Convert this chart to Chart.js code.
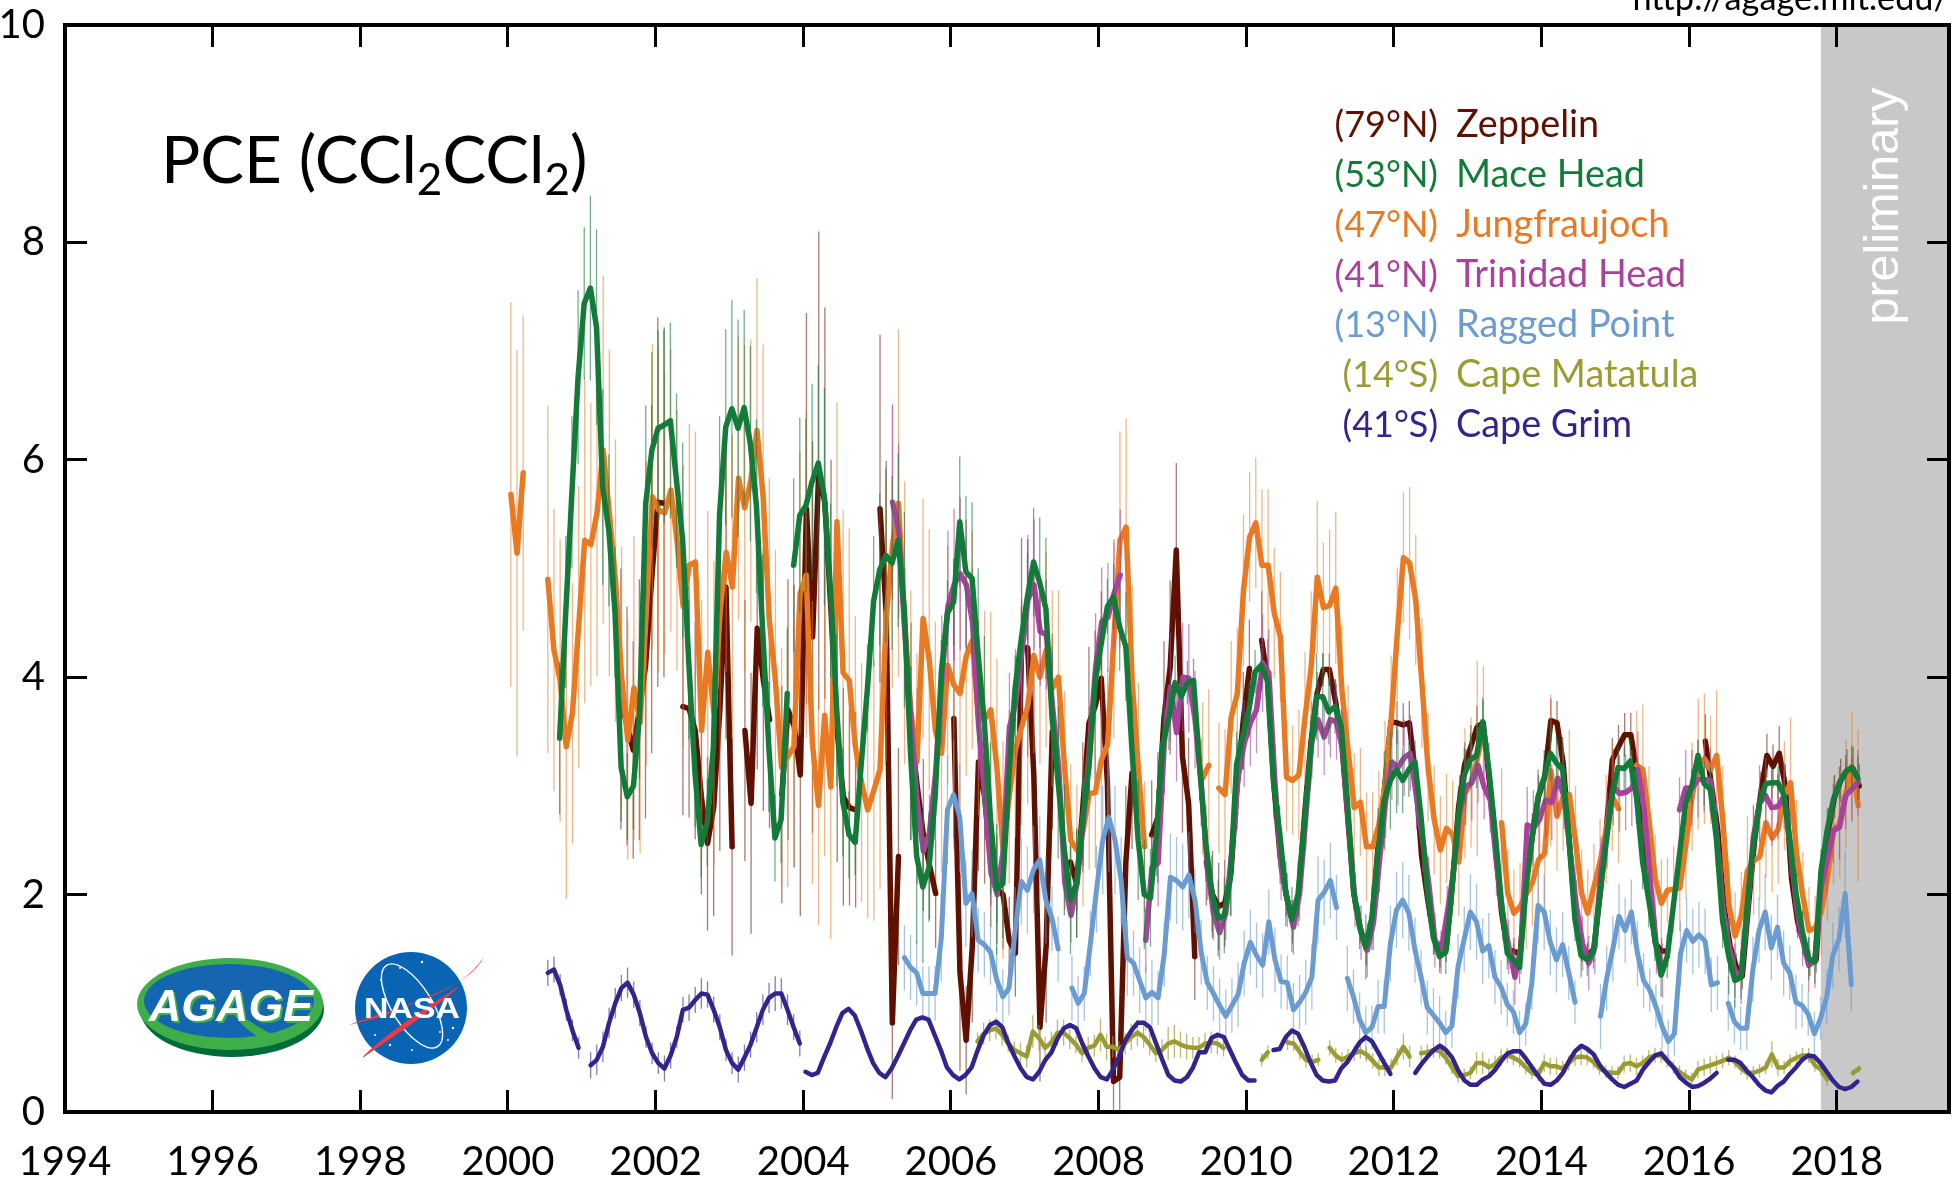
<!DOCTYPE html>
<html>
<head>
<meta charset="utf-8">
<title>PCE (CCl2CCl2)</title>
<script src="https://cdn.jsdelivr.net/npm/chart.js@4"></script>
<style>
  html, body { margin: 0; padding: 0; background: #fff; overflow: hidden; }
  #wrap { position: relative; width: 1955px; height: 1184px; overflow: hidden; }
  #chart { position: absolute; left: 0; top: 0; }
  .note { position: absolute; font-family: Lato, sans-serif; white-space: nowrap; }
  #title { left: 161px; top: 116px; font-size: 65.5px; line-height: 84px; color: #000; }
  #title sub { font-size: 44px; line-height: 0; vertical-align: -12px; }
  #url { right: 6px; top: -23px; font-size: 34.3px; line-height: 40px; color: #000; }
  #prelim { left: 1881px; top: 206px; transform: translate(-50%, -50%) rotate(-90deg);
            font-family: "Liberation Sans", sans-serif; font-size: 48.5px; color: #fff; }
  .lat { text-align: right; width: 130px; left: 1308px; font-size: 36px; }
  .site { left: 1456px; font-size: 37.8px; }
  .lat, .site { line-height: 44px; }
  #logos { position: absolute; left: 0; top: 0; }
</style>
</head>
<body>
<div id="wrap">
  <canvas id="chart" width="1955" height="1184"></canvas>
  <svg id="logos" width="1955" height="1184" viewBox="0 0 1955 1184">
    <!-- AGAGE -->
    <ellipse cx="232" cy="1009" rx="92" ry="48" fill="#006b3a"/>
    <ellipse cx="230" cy="1004" rx="93" ry="46" fill="#3fae49"/>
    <ellipse cx="229" cy="1001" rx="85" ry="37" fill="#1565b0"/>
    <path d="M 300 1031 C 280 1040 270 1034 254 1024 C 244 1018 238 1012 232 1012 C 240 1024 252 1035 268 1042 Z" fill="#3fae49"/>
    <text x="149" y="1021" font-family="Liberation Sans" font-weight="bold" font-style="italic" font-size="44" textLength="164" lengthAdjust="spacingAndGlyphs" fill="#3fae49" dx="2" dy="2">AGAGE</text>
    <text x="149" y="1021" font-family="Liberation Sans" font-weight="bold" font-style="italic" font-size="44" textLength="164" lengthAdjust="spacingAndGlyphs" fill="#fff">AGAGE</text>
    <!-- NASA -->
    <circle cx="411" cy="1008" r="56" fill="#0a64b4"/>
    <g fill="#fff">
      <circle cx="400" cy="968" r="1"/><circle cx="422" cy="962" r="1.2"/><circle cx="381" cy="980" r="1"/>
      <circle cx="375" cy="1035" r="1"/><circle cx="390" cy="1045" r="1.2"/><circle cx="440" cy="1032" r="1"/>
      <circle cx="453" cy="1028" r="1.2"/><circle cx="448" cy="1040" r="1"/><circle cx="412" cy="1050" r="1"/>
    </g>
    <ellipse cx="412" cy="1006" rx="20" ry="48" transform="rotate(-32 412 1006)" fill="none" stroke="#fff" stroke-width="1.4"/>
    <path d="M 349 1025 C 390 1008 455 1000 484 957 C 468 988 420 996 385 1016 Z" fill="#ee3a43"/>
    <path d="M 363 1057 C 385 1035 420 1012 457 988 C 430 1012 395 1035 363 1057 Z" fill="#ee3a43" stroke="#ee3a43"/>
    <text x="364" y="1018" font-family="Liberation Sans" font-weight="bold" font-size="30" textLength="96" lengthAdjust="spacingAndGlyphs" fill="#fff">NASA</text>
  </svg>
  <div class="note" id="title">PCE (CCl<sub>2</sub>CCl<sub>2</sub>)</div>
  <div class="note" id="url">http://agage.mit.edu/</div>
  <div class="note" id="prelim">preliminary</div>
</div>
<script>
// tick labels
const yearTicks = [1994, 1996, 1998, 2000, 2002, 2004, 2006, 2008, 2010, 2012, 2014, 2016, 2018];
const valueTicks = [0, 2, 4, 6, 8, 10];
const xMin = 1994, xMax = 2019.52, yMin = 0, yMax = 10;
const prelimStart = 2017.785;

// monthly means (ppt) per unbroken run, with the year each run starts
const zeppelinStarts = [2001.53, 2002.37, 2003.21, 2003.71, 2005.04, 2005.46, 2006.04, 2007.62, 2008.72, 2009.46, 2010.21, 2016.22];
const zeppelin = [
  [3.8,3.55,3.33,3.7,4.1,4.9,5.61,5.6],
  [3.73,3.71,3.51,2.9,2.47,2.8,3.7,4.83,2.44],
  [3.51,2.84,4.45,3.97,3.61],
  [2.92,3.7,3.55,3.1,5.55,4.37,5.9,5.6,4.6,3.5,2.9,2.8,2.78],
  [5.55,4.59,.82,2.35],
  [3.5,3.0,2.55,2.27,2.01],
  [3.62,1.28,.66,1.52,3.22,2.9,2.3,2.05,2.0,1.58,1.46,4.28,4.27,3.1,.78,1.52,3.5],
  [2.3,2.1,2.8,3.58,3.73,3.99,3.03,.28,.32,2.3,3.12],
  [2.55,2.71,3.63,4.09,5.17,3.27,2.84,1.43],
  [2.3,2.0,1.89,1.92,2.2,3.0,3.6,4.08],
  [4.34,3.95,3.0,2.35,2.0,1.75,2.0,2.75,3.4,3.85,4.07,4.07,3.78,3.4,2.7,2.0,1.7,1.5,1.8,2.5,3.0,3.59,3.58,3.56,3.58,3.1,2.35,1.95,1.6,1.45,1.5,2.1,2.8,3.2,3.36,3.54,3.58,3.05,2.44,1.83,1.49,1.48,1.45,2.13,2.55,2.9,3.08,3.6,3.58,3.21,2.5,1.8,1.5,1.44,1.5,2.0,2.59,3.24,3.36,3.47,3.47,3.12,2.5,2.0,1.55,1.48,1.48],
  [3.41,3.0,2.6,1.9,1.53,1.34,1.25,1.9,2.5,2.93,3.28,3.18,3.3,3.0,2.15,1.75,1.55,1.37,1.4,2.25,2.6,2.9,3.05,3.14,3.16,3.0]
];
const zeppelinErr = [
  [1.2,1.1,1.0,1.2,1.4,1.6,1.7,1.6],
  [1.0,1.0,1.0,.9,.8,1.0,1.3,1.4,1.0],
  [1.2,1.2,1.3,1.2,1.0],
  [1.0,1.2,1.3,1.3,1.8,1.8,2.2,1.8,1.4,1.2,1.0,.9,.9],
  [1.6,1.4,.7,1.0],
  [1.0,.9,.7,.5,.5],
  [1.1,.9,.5,.7,1.0,.8,.6,.5,.5,.4,.4,1.0,1.0,1.0,.5,.7,.9],
  [.5,.5,.6,.7,.7,.8,.7,.3,.3,.7,.7],
  [.5,.6,.7,.8,.8,.7,.6,.4],
  [.4,.4,.4,.4,.4,.4,.45,.45],
  [.45,.4,.3,.25,.2,.2,.2,.25,.25,.2,.15,.15,.2,.2,.2,.15,.15,.15,.15,.2,.2,.2,.2,.2,.2,.2,.15,.15,.15,.12,.12,.15,.2,.2,.2,.2,.2,.15,.15,.15,.12,.12,.12,.15,.2,.2,.2,.2,.2,.15,.15,.12,.12,.12,.12,.15,.2,.2,.2,.2,.2,.15,.15,.12,.12,.12,.15],
  [.25,.2,.15,.15,.12,.12,.12,.15,.2,.2,.2,.2,.25,.2,.15,.15,.12,.12,.12,.15,.2,.2,.2,.2,.2,.2]
];

const maceHeadStarts = [2000.70, 2003.87];
const maceHead = [
  [3.44,4.6,5.7,6.76,7.44,7.58,7.22,5.75,5.35,4.6,3.17,2.9,3.0,3.67,5.6,6.09,6.29,6.32,6.36,5.81,5.26,4.13,3.12,2.46,2.66,3.36,5.5,6.3,6.47,6.29,6.48,6.15,5.57,4.43,3.36,2.52,2.69,3.85],
  [5.03,5.49,5.58,5.8,5.97,5.66,4.8,3.7,2.85,2.55,2.48,3.21,3.9,4.7,4.99,5.12,5.05,5.26,4.62,3.3,2.35,2.07,2.25,2.9,4.04,4.59,4.69,5.43,4.97,4.91,4.2,3.58,2.7,2.05,2.1,3.1,3.9,4.35,4.74,5.06,4.87,4.63,3.63,3.03,2.41,1.95,2.11,2.71,3.17,3.95,4.31,4.65,4.74,4.46,4.28,3.33,2.5,2.0,1.97,2.57,3.39,3.63,3.95,3.82,3.95,3.97,3.17,2.47,2.01,1.78,1.81,2.16,3.2,3.45,3.7,4.05,4.11,3.97,3.03,2.57,2.01,1.77,2.01,2.65,3.3,3.82,3.82,3.68,3.73,3.55,2.87,2.04,1.7,1.52,1.79,2.4,2.87,3.05,3.15,3.05,3.15,3.22,2.7,2.05,1.6,1.43,1.47,2.05,2.7,3.1,3.24,3.28,3.59,3.15,2.59,1.95,1.46,1.4,1.33,2.04,2.5,2.9,3.08,3.3,3.21,3.15,2.53,1.77,1.44,1.4,1.47,1.98,2.44,2.9,3.17,3.16,3.23,2.9,2.3,1.95,1.59,1.26,1.43,1.9,2.37,2.84,3.0,3.28,3.02,2.97,2.51,1.76,1.43,1.21,1.24,1.9,2.46,2.84,3.02,3.03,3.03,2.91,2.46,1.99,1.65,1.41,1.38,2.22,2.59,2.87,3.03,3.13,3.17,3.07]
];
const maceHeadErr = [
  [.7,.7,.7,.8,.7,.85,.9,.9,.7,.6,.5,.4,.4,.6,.9,.9,.9,.9,.9,.8,.9,.7,.5,.3,.4,.6,.9,.9,1.0,1.0,.9,.9,.8,.7,.6,.4,.4,.6],
  [.8,.9,.8,.9,.9,1.0,.8,.7,.5,.4,.3,.3,.4,.6,.7,.8,.8,.8,.9,.8,.8,.7,.5,.4,.3,.3,.4,.6,.7,.7,.8,.8,.7,.6,.5,.4,.3,.3,.4,.5,.6,.65,.65,.7,.6,.5,.5,.4,.3,.25,.25,.25,.3,.4,.5,.5,.55,.5,.45,.4,.35,.3,.25,.2,.2,.2,.3,.35,.35,.35,.35,.35,.3,.3,.25,.2,.2,.2,.2,.25,.3,.3,.3,.3,.3,.4,.4,.3,.25,.15,.15,.15,.2,.3,.3,.4,.45,.45,.4,.3,.25,.2,.15,.15,.15,.15,.2,.25,.25,.25,.25,.3,.22,.25,.2,.2,.15,.15,.15,.15,.2,.25,.25,.25,.25,.3,.25,.2,.2,.15,.15,.15,.15,.15,.2,.2,.2,.25,.25,.25,.2,.2,.2,.15,.15,.15,.15,.15,.2,.2,.25,.25,.35,.25,.2,.2,.15,.15,.15,.15,.15,.15,.2,.2,.2,.2,.2,.2,.2,.15,.15,.15,.2,.2,.25,.25,.25,.25,.25,.3]
];

const jungfraujochStarts = [2000.04, 2000.54, 2009.41, 2009.63, 2013.46, 2015.29];
const jungfraujoch = [
  [5.68,5.14,5.88],
  [4.9,4.25,3.97,3.36,3.67,4.46,5.26,5.22,5.51,6.09,5.51,4.89,4.0,3.42,3.9,3.58,4.59,5.66,5.54,5.51,5.72,5.26,4.65,5.03,5.06,3.51,4.23,3.67,4.6,5.15,4.83,5.83,5.56,5.81,6.27,5.66,4.53,3.97,3.17,3.27,3.36,4.77,4.94,3.4,2.82,3.65,2.99,5.43,4.04,3.97,3.36,3.03,2.78,2.96,3.15,4.53,5.2,5.6,4.5,3.7,3.22,4.54,4.16,3.51,3.3,4.11,3.93,3.85,4.19,4.34,3.63,3.61,3.7,3.17,2.41,2.9,3.33,3.54,3.73,4.2,4.0,4.25,3.9,4.0,3.17,2.5,2.41,2.59,2.93,2.94,3.24,3.38,4.34,5.26,5.38,3.95,3.15,2.44],
  [3.07,3.19],
  [2.98,2.92,3.63,3.85,4.8,5.29,5.42,5.03,5.03,4.59,4.37,3.08,3.05,3.1,3.63,4.09,4.92,4.64,4.66,4.82,3.88,3.33,2.8,2.85,2.44,2.44,2.64,3.0,3.6,4.4,5.1,5.05,4.71,3.95,3.17,2.69,2.41,2.61,2.55,2.3,2.93,3.03,3.25,3.5],
  [2.66,2.01,1.83,1.89,2.0,2.11,2.32,2.38,3.14,2.72,2.9,2.92,2.5,2.01,1.83,2.07,2.3,2.6,2.9,2.79],
  [3.19,3.15,2.68,2.15,1.92,2.04,2.05,2.06,2.46,2.9,3.2,3.25,3.15,3.28,2.68,1.9,1.62,1.81,2.22,2.31,2.35,2.66,2.52,2.6,2.91,3.03,2.37,1.99,1.67,1.69,1.84,2.15,2.59,2.66,2.93,3.18,2.82]
];
const jungfraujochErr = [
  [1.77,1.87,1.45],
  [1.6,1.3,1.3,1.4,1.2,1.3,1.5,1.3,1.5,1.6,1.5,1.3,1.2,1.1,1.4,1.2,1.4,1.4,1.5,1.3,1.3,1.2,1.3,1.3,1.2,1.2,1.3,1.4,1.3,1.1,1.4,1.3,1.5,1.3,1.4,1.4,1.3,1.2,1.1,1.2,1.1,1.3,1.5,1.3,1.1,1.3,1.4,1.1,1.5,1.4,1.2,1.1,1.0,1.2,1.1,1.3,1.3,1.6,1.3,1.1,1.0,1.1,1.2,1.0,1.1,1.1,1.0,1.1,1.1,1.0,.9,1.0,.9,1.0,1.0,.8,.8,.9,.9,.9,.8,.9,.9,.8,.7,.7,.6,.7,.7,.7,.8,.7,.9,1.0,1.0,.9,.8,.6],
  [.7,.7],
  [.6,.6,.7,.6,.7,.6,.6,.7,.7,.6,.6,.5,.5,.6,.6,.7,.7,.6,.7,.7,.6,.6,.5,.5,.5,.5,.5,.6,.6,.6,.6,.7,.6,.6,.5,.5,.5,.5,.5,.5,.6,.6,.9,.6],
  [.5,.4,.4,.4,.5,.4,.5,.6,.7,.5,.5,.6,.5,.4,.4,.4,.4,.5,.5,.5],
  [.5,.6,.5,.4,.4,.3,.4,.4,.5,.5,.6,.6,.5,.6,.5,.4,.4,.4,.5,.5,.4,.5,.5,.5,.5,.6,.5,.4,.4,.3,.4,.4,.5,.5,.5,.5,.7]
];

const trinidadStarts = [2005.21, 2008.64, 2015.87];
const trinidad = [
  [5.61,5.35,4.4,3.6,2.85,2.4,2.57,3.12,3.97,4.65,4.85,4.95,4.85,4.5,3.55,2.9,2.2,2.0,2.41,3.54,3.76,4.22,4.71,4.85,4.42,4.39,3.73,3.17,2.11,1.81,2.11,2.66,3.33,4.09,4.51,4.55,4.77,4.94],
  [1.58,2.25,2.29,3.39,3.91,3.49,4.0,3.99,3.61,3.03,2.25,1.83,1.65,1.83,2.41,3.08,3.39,3.58,3.7,4.13,4.04,3.03,2.25,1.95,1.7,2.01,2.71,3.42,3.61,3.45,3.61,3.59,3.33,2.62,1.95,1.65,1.49,1.74,2.32,2.87,3.22,3.17,3.26,3.3,2.9,2.5,2.1,1.58,1.47,1.83,2.2,2.75,2.99,3.03,3.19,2.99,2.87,2.29,1.83,1.52,1.24,1.52,2.64,2.61,2.69,2.87,2.85,3.07,2.9,2.38,1.89,1.55,1.37,1.52,2.23,2.59,2.99,2.93,2.94,2.98,3.15,2.78,2.13,1.52,1.3],
  [2.78,2.98,2.98,3.06,3.06,3.05,2.56,1.9,1.53,1.3,1.24,1.84,2.53,2.84,2.91,2.8,2.81,2.91,2.46,1.9,1.59,1.35,1.39,2.06,2.31,2.59,2.62,2.91,2.97,3.03]
];
const trinidadErr = [
  [.9,.8,.6,.5,.4,.35,.35,.4,.6,.7,.7,.7,.6,.5,.5,.4,.3,.25,.3,.5,.5,.5,.6,.6,.5,.5,.5,.4,.25,.25,.25,.4,.4,.5,.5,.5,.5,.6],
  [.3,.3,.4,.45,.5,.45,.5,.5,.45,.4,.3,.25,.25,.25,.3,.35,.4,.4,.4,.45,.4,.35,.3,.25,.25,.25,.3,.35,.35,.35,.35,.35,.35,.3,.25,.25,.25,.25,.3,.35,.35,.35,.35,.35,.3,.3,.25,.25,.2,.25,.3,.35,.35,.35,.35,.3,.3,.3,.25,.25,.25,.25,.35,.35,.35,.35,.35,.35,.3,.3,.25,.25,.25,.25,.3,.35,.35,.35,.35,.35,.35,.3,.25,.25,.25],
  [.3,.35,.35,.35,.3,.3,.3,.25,.25,.25,.25,.25,.3,.35,.35,.35,.3,.3,.3,.25,.25,.25,.25,.25,.3,.3,.3,.3,.3,.3]
];

const raggedPointStarts = [2005.37, 2007.64, 2011.37, 2014.80, 2016.53];
const raggedPoint = [
  [1.42,1.33,1.28,1.09,1.09,1.09,1.6,2.78,2.92,2.71,1.92,2.01,1.58,1.54,1.47,1.22,1.06,1.14,1.67,2.12,2.04,2.23,2.32,1.95,1.78,1.5],
  [1.14,1.0,1.09,1.55,2.05,2.5,2.71,2.5,2.13,1.42,1.37,1.21,1.05,1.1,1.05,1.45,2.16,2.13,2.07,2.18,1.95,1.47,1.19,1.09,.98,.88,.98,1.08,1.37,1.56,1.44,1.35,1.75,1.4,1.2,1.19,.94,1.01,1.1,1.24,1.95,2.02,2.13,1.88],
  [1.23,1.06,.85,.73,.78,.97,.97,1.55,1.86,1.95,1.83,1.49,1.24,.96,.89,.82,.73,.79,1.34,1.59,1.84,1.75,1.48,1.53,1.24,1.15,.99,.92,.73,.81,1.19,1.9,1.84,1.56,1.4,1.54,1.28,1.01],
  [.88,1.23,1.5,1.8,1.67,1.84,1.46,1.21,1.12,.97,.79,.65,.72,1.46,1.67,1.57,1.63,1.57,1.17,1.19],
  [1.0,.83,.77,.77,1.31,1.67,1.84,1.51,1.7,1.37,1.28,1.01,.98,.9,.72,.86,1.06,1.44,1.59,2.01,1.17]
];
const raggedPointErr = [
  [.3,.3,.3,.25,.25,.25,.4,.5,.5,.5,.4,.4,.3,.3,.3,.3,.25,.25,.4,.4,.4,.4,.4,.4,.3,.3],
  [.3,.25,.25,.3,.4,.5,.5,.5,.4,.35,.3,.3,.3,.3,.25,.3,.4,.4,.4,.4,.3,.3,.25,.25,.25,.25,.25,.3,.3,.3,.3,.3,.3,.3,.25,.25,.25,.25,.3,.3,.4,.3,.35,.3],
  [.3,.25,.25,.25,.2,.25,.25,.35,.35,.35,.35,.3,.25,.25,.25,.25,.2,.2,.3,.3,.35,.35,.3,.3,.25,.25,.2,.2,.2,.2,.25,.35,.35,.3,.3,.3,.25,.2],
  [.3,.3,.3,.3,.3,.3,.3,.25,.2,.2,.2,.2,.2,.3,.3,.3,.3,.3,.25,.25],
  [.25,.2,.2,.2,.3,.3,.35,.3,.3,.3,.25,.25,.2,.2,.2,.2,.25,.3,.3,.4,.25]
];

const capeMatatulaStarts = [2006.36, 2010.21, 2010.56, 2011.13, 2012.37, 2018.22];
const capeMatatula = [
  [.65,.72,.75,.77,.71,.63,.57,.54,.51,.74,.68,.59,.64,.73,.73,.68,.62,.54,.59,.61,.71,.6,.6,.57,.63,.69,.73,.69,.62,.54,.57,.63,.65,.62,.6,.59,.59,.63,.64,.63,.59],
  [.48,.55],
  [.64,.63,.55,.48,.46,.48],
  [.59,.52,.48,.51,.54,.56,.53,.47,.41,.41,.41,.51,.6,.51],
  [.54,.55,.57,.56,.5,.41,.33,.34,.36,.45,.45,.41,.44,.5,.52,.5,.47,.41,.36,.34,.45,.42,.42,.4,.45,.5,.51,.5,.46,.4,.37,.36,.36,.44,.45,.42,.45,.5,.52,.52,.47,.41,.37,.33,.3,.39,.41,.43,.45,.47,.5,.46,.4,.36,.36,.38,.41,.53,.41,.41,.47,.5,.52,.52,.43,.39,.3],
  [.36,.4]
];
const capeMatatulaErr = [
  [.08,.1,.1,.1,.1,.08,.08,.1,.1,.15,.12,.1,.1,.12,.12,.1,.08,.08,.1,.1,.15,.12,.1,.08,.1,.12,.12,.1,.1,.08,.1,.15,.15,.12,.12,.1,.1,.1,.1,.1,.08],
  [.06,.06],
  [.07,.07,.07,.07,.07,.06],
  [.07,.07,.07,.07,.07,.07,.07,.07,.08,.08,.08,.08,.12,.1],
  [.07,.07,.07,.07,.06,.06,.06,.06,.06,.1,.1,.08,.08,.08,.07,.07,.06,.06,.06,.06,.08,.08,.08,.07,.07,.08,.08,.07,.06,.06,.06,.06,.06,.08,.08,.08,.07,.07,.07,.07,.06,.06,.06,.06,.06,.08,.08,.08,.07,.07,.07,.06,.06,.06,.06,.06,.06,.12,.08,.06,.06,.06,.07,.07,.06,.06,.06],
  [.03,.03]
];

const capeGrimStarts = [2000.54, 2001.12, 2004.03, 2010.37, 2012.29, 2016.53];
const capeGrim = [
  [1.28,1.31,1.17,.94,.75,.59],
  [.43,.48,.6,.82,1.0,1.14,1.19,1.08,.91,.69,.54,.45,.4,.52,.69,.94,.96,1.03,1.09,1.08,.94,.78,.57,.45,.39,.5,.62,.78,.94,1.05,1.09,1.09,.94,.78,.63],
  [.37,.34,.36,.5,.63,.78,.91,.95,.89,.75,.59,.45,.36,.32,.4,.51,.63,.75,.85,.87,.85,.71,.57,.41,.34,.3,.34,.41,.57,.71,.8,.83,.78,.63,.51,.4,.32,.3,.37,.48,.55,.68,.77,.8,.77,.63,.51,.4,.32,.3,.39,.51,.66,.75,.82,.82,.78,.63,.48,.34,.29,.28,.32,.41,.55,.55,.68,.71,.69,.57,.45,.34,.29,.29],
  [.57,.58,.69,.75,.72,.6,.46,.34,.29,.28,.29,.4,.46,.55,.64,.69,.65,.55,.45,.35],
  [.36,.44,.51,.57,.61,.57,.5,.38,.29,.25,.25,.3,.33,.39,.47,.54,.56,.56,.49,.41,.33,.26,.25,.29,.36,.47,.56,.61,.58,.53,.43,.36,.3,.25,.23,.26,.29,.39,.46,.52,.54,.47,.41,.32,.27,.23,.24,.27,.31,.36],
  [.48,.48,.45,.38,.32,.25,.2,.18,.24,.28,.35,.41,.48,.52,.51,.45,.37,.29,.23,.21,.23,.28]
];
const capeGrimErr = [
  [.12,.12,.1,.1,.1,.1],
  [.12,.14,.14,.14,.14,.12,.14,.12,.12,.1,.1,.1,.12,.12,.1,.12,.12,.12,.14,.12,.12,.12,.1,.1,.12,.12,.12,.14,.14,.14,.16,.14,.14,.12,.12],
  [], [], [], []
];

const stationNames = ["Zeppelin", "Mace Head", "Jungfraujoch", "Trinidad Head", "Ragged Point", "Cape Matatula", "Cape Grim"];
const stationLats = ["(79°N)", "(53°N)", "(47°N)", "(41°N)", "(13°N)", "(14°S)", "(41°S)"];
const stationColors = ["#5f1000", "#137b3a", "#ea7a22", "#a8429a", "#6a9bd1", "#9b9b35", "#32248c"];
const stationAlpha = ["rgba(95,16,0,.55)", "rgba(19,123,58,.6)", "rgba(234,122,34,.55)", "rgba(168,66,154,.6)", "rgba(106,155,209,.6)", "rgba(155,155,53,.7)", "rgba(50,36,140,.6)"];
const lineWidths = [5.5, 5.5, 5.5, 5.5, 5, 4.5, 4.5];

const stationRuns = [
  [zeppelinStarts, zeppelin, zeppelinErr],
  [maceHeadStarts, maceHead, maceHeadErr],
  [jungfraujochStarts, jungfraujoch, jungfraujochErr],
  [trinidadStarts, trinidad, trinidadErr],
  [raggedPointStarts, raggedPoint, raggedPointErr],
  [capeMatatulaStarts, capeMatatula, capeMatatulaErr],
  [capeGrimStarts, capeGrim, capeGrimErr]
];
// paint order, bottom to top
const paintOrder = [0, 2, 3, 4, 5, 6, 1];

// legend
const wrap = document.getElementById('wrap');
stationNames.forEach((name, i) => {
  const top = 101 + i * 50.05;
  const lat = document.createElement('div');
  lat.className = 'note lat';
  lat.style.top = top + 'px';
  lat.style.color = stationColors[i];
  lat.textContent = stationLats[i];
  wrap.appendChild(lat);
  const site = document.createElement('div');
  site.className = 'note site';
  site.style.top = top + 'px';
  site.style.color = stationColors[i];
  site.textContent = name;
  wrap.appendChild(site);
});

// error bars first, then the line, one dataset per run
const datasets = [];
paintOrder.forEach((s, rank) => {
  const [starts, runs, errs] = stationRuns[s];
  runs.forEach((run, r) => {
    const bars = [];
    run.forEach((v, i) => {
      const e = errs[r][i];
      if (e === undefined) return;
      const t = starts[r] + i / 12;
      bars.push({x: t, y: v - e}, {x: t, y: v + e}, {x: t, y: null});
    });
    datasets.push({
      data: bars,
      borderColor: stationAlpha[s],
      borderWidth: 1.3,
      pointRadius: 0,
      spanGaps: false,
      order: 1000 - rank * 2
    });
    datasets.push({
      data: run.map((v, i) => ({x: starts[r] + i / 12, y: v})),
      borderColor: stationColors[s],
      borderWidth: lineWidths[s],
      borderCapStyle: 'round',
      borderJoinStyle: 'round',
      tension: 0,
      pointRadius: 0,
      order: 999 - rank * 2
    });
  });
});

const greyBand = {
  id: 'greyBand',
  beforeDraw(chart) {
    const {ctx, chartArea, scales} = chart;
    ctx.save();
    ctx.fillStyle = '#c8c8c8';
    const x0 = scales.x.getPixelForValue(prelimStart);
    ctx.fillRect(x0, chartArea.top, chartArea.right - x0, chartArea.bottom - chartArea.top);
    ctx.restore();
  }
};

const gridStyle = {drawOnChartArea: false, drawTicks: true, tickLength: -22, tickWidth: 3, tickColor: '#000'};
const borderStyle = {color: '#000', width: 4};
const labelFont = {family: 'Lato', size: 40};
const useTicks = list => scale => { scale.ticks = list.map(v => ({value: v})); };
// fixed plot box: no extra room for labels that overhang
const fixSize = (w, h) => s => {
  if (w !== null) s.width = w;
  if (h !== null) s.height = h;
  s.paddingLeft = s.paddingRight = s.paddingTop = s.paddingBottom = 0;
};

new Chart('chart', {
  type: 'line',
  data: {datasets: datasets},
  plugins: [greyBand],
  options: {
    responsive: false,
    animation: false,
    devicePixelRatio: 1,
    layout: {padding: {left: 0, right: 6, top: 25, bottom: 0}},
    plugins: {legend: {display: false}, tooltip: {enabled: false}, title: {display: false}},
    scales: {
      x: {
        type: 'linear', position: 'bottom', min: xMin, max: xMax,
        grid: gridStyle, border: borderStyle,
        afterBuildTicks: useTicks(yearTicks),
        afterFit: fixSize(null, 72),
        ticks: {color: '#000', font: labelFont, padding: 48, maxRotation: 0, autoSkip: false, callback: v => String(v)}
      },
      x2: {
        type: 'linear', position: 'top', min: xMin, max: xMax,
        grid: gridStyle, border: borderStyle,
        afterBuildTicks: useTicks(yearTicks),
        afterFit: fixSize(null, 0),
        ticks: {display: false}
      },
      y: {
        type: 'linear', position: 'left', min: yMin, max: yMax,
        grid: gridStyle, border: borderStyle,
        afterBuildTicks: useTicks(valueTicks),
        afterFit: fixSize(65, null),
        ticks: {color: '#000', font: labelFont, padding: 42, autoSkip: false, callback: v => String(v)}
      },
      y2: {
        type: 'linear', position: 'right', min: yMin, max: yMax,
        grid: gridStyle, border: borderStyle,
        afterBuildTicks: useTicks(valueTicks),
        afterFit: fixSize(0, null),
        ticks: {display: false}
      }
    }
  }
});
</script>
</body>
</html>
